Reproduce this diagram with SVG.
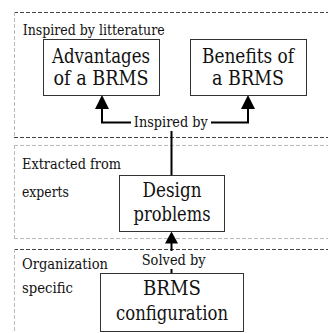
<svg xmlns="http://www.w3.org/2000/svg" width="328" height="333" viewBox="0 0 328 333">
<style>
.bg{fill:#ffffff}
.zdark{stroke:#444;stroke-width:1;stroke-dasharray:4,2;fill:none}
.zlight{stroke:#bbb;stroke-width:1;stroke-dasharray:4,2;fill:none}
.box{fill:#fff;stroke:#333;stroke-width:1}
text{font-family:'DejaVu Serif','Liberation Serif',serif;lengthAdjust:spacingAndGlyphs}
.big{font-size:20px;fill:#111;text-anchor:middle}
.small{font-size:14px;fill:#111}
.line{stroke:#000;stroke-width:2;fill:none}
.head{fill:#000}
</style>
<rect class="bg" x="0" y="0" width="328" height="333"/>
<g id="zone-literature">
  <line class="zdark" x1="14" y1="12.5" x2="328" y2="12.5"/>
  <line class="zlight" x1="14.5" y1="12" x2="14.5" y2="137"/>
  <line class="zdark" x1="14" y1="137.5" x2="328" y2="137.5"/>
  <text class="small" x="22.7" y="34.7" textLength="142" lengthAdjust="spacingAndGlyphs">Inspired by litterature</text>
</g>
<g id="zone-experts">
  <line class="zlight" x1="14" y1="145.5" x2="328" y2="145.5"/>
  <line class="zlight" x1="14.5" y1="145" x2="14.5" y2="239"/>
  <line class="zlight" x1="14" y1="238.5" x2="328" y2="238.5"/>
  <text class="small" x="22" y="169" textLength="99" lengthAdjust="spacingAndGlyphs">Extracted from</text>
  <text class="small" x="22" y="197" textLength="47" lengthAdjust="spacingAndGlyphs">experts</text>
</g>
<g id="zone-organization">
  <line class="zdark" x1="14" y1="249.5" x2="328" y2="249.5"/>
  <line class="zlight" x1="14.5" y1="249" x2="14.5" y2="333"/>
  <text class="small" x="22" y="269" textLength="86" lengthAdjust="spacingAndGlyphs">Organization</text>
  <text class="small" x="22" y="293" textLength="51" lengthAdjust="spacingAndGlyphs">specific</text>
</g>
<g id="connectors">
  <path class="line" d="M131 122.5 H102 V108"/>
  <polygon class="head" points="95,109 109,109 102,95"/>
  <path class="line" d="M211 122.5 H248 V108"/>
  <polygon class="head" points="241,109 255,109 248,95"/>
  <path class="line" d="M171.5 131 V175"/>
  <text class="small" x="133.8" y="127" textLength="74" lengthAdjust="spacingAndGlyphs">Inspired by</text>
  <polygon class="head" points="165,243.5 178,243.5 171.5,231.5"/>
  <path class="line" d="M171.5 243 V251"/>
  <text class="small" x="141.7" y="265" textLength="64" lengthAdjust="spacingAndGlyphs">Solved by</text>
  <path class="line" d="M171.5 269 V273"/>
</g>
<g id="node-advantages">
  <rect class="box" x="43.5" y="39.5" width="116" height="56"/>
  <text class="big" x="101" y="63" textLength="98" lengthAdjust="spacingAndGlyphs">Advantages</text>
  <text class="big" x="101" y="85" textLength="95" lengthAdjust="spacingAndGlyphs">of a BRMS</text>
</g>
<g id="node-benefits">
  <rect class="box" x="190.5" y="39.5" width="116" height="56"/>
  <text class="big" x="248" y="63" textLength="92" lengthAdjust="spacingAndGlyphs">Benefits of</text>
  <text class="big" x="248" y="85" textLength="72" lengthAdjust="spacingAndGlyphs">a BRMS</text>
</g>
<g id="node-design">
  <rect class="box" x="119.5" y="175.5" width="105" height="56"/>
  <text class="big" x="172" y="197" textLength="59" lengthAdjust="spacingAndGlyphs">Design</text>
  <text class="big" x="172" y="221" textLength="77" lengthAdjust="spacingAndGlyphs">problems</text>
</g>
<g id="node-brms">
  <rect class="box" x="100.5" y="273.5" width="143" height="58"/>
  <text class="big" x="172" y="295" textLength="58" lengthAdjust="spacingAndGlyphs">BRMS</text>
  <text class="big" x="172" y="320" textLength="112" lengthAdjust="spacingAndGlyphs">configuration</text>
</g>
</svg>
